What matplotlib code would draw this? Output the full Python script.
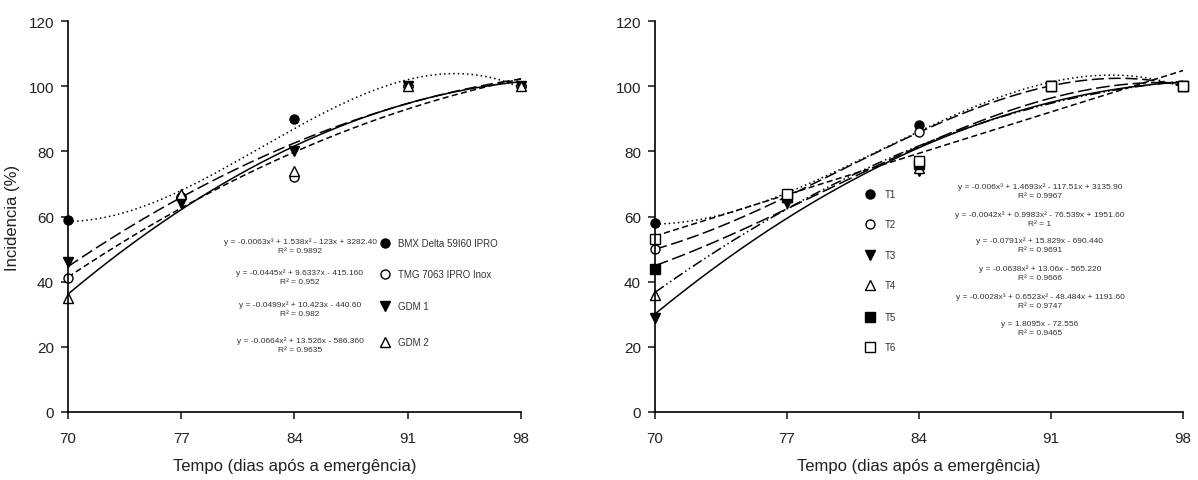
import numpy as np
import matplotlib
matplotlib.use("Agg")
import matplotlib.pyplot as plt

plt.rcParams['font.family'] = ['Liberation Sans', 'DejaVu Sans']

days = [70, 77, 84, 91, 98]

# Left panel (cultivars)
left_names = ["BMX Delta 59I60 IPRO", "TMG 7063 IPRO Inox", "GDM 1", "GDM 2"]
bmx = [59, 66, 90, 100, 100]
tmg = [41, 66, 72, 100, 100]
gdm1 = [46, 64, 80, 100, 100]
gdm2 = [35, 67, 74, 100, 100]
left_values = [bmx, tmg, gdm1, gdm2]
left_degree = [3, 2, 2, 2]
left_eq = [
    "y = -0.0063x³ + 1.538x² - 123x + 3282.40\nR² = 0.9892",
    "y = -0.0445x² + 9.6337x - 415.160\nR² = 0.952",
    "y = -0.0499x² + 10.423x - 440.60\nR² = 0.982",
    "y = -0.0664x² + 13.526x - 586.360\nR² = 0.9635",
]

# Right panel (treatments)
right_names = ["T1", "T2", "T3", "T4", "T5", "T6"]
t1 = [58, 66, 88, 100, 100]
t2 = [50, 66, 86, 100, 100]
t3 = [29, 64, 74, 100, 100]
t4 = [36, 66, 75, 100, 100]
t5 = [44, 66, 76, 100, 100]
t6 = [53, 67, 77, 100, 100]
right_values = [t1, t2, t3, t4, t5, t6]
right_degree = [3, 3, 2, 2, 3, 1]
right_eq = [
    "y = -0.006x³ + 1.4693x² - 117.51x + 3135.90\nR² = 0.9967",
    "y = -0.0042x³ + 0.9983x² - 76.539x + 1951.60\nR² = 1",
    "y = -0.0791x² + 15.829x - 690.440\nR² = 0.9691",
    "y = -0.0638x² + 13.06x - 565.220\nR² = 0.9666",
    "y = -0.0028x³ + 0.6523x² - 48.484x + 1191.60\nR² = 0.9747",
    "y = 1.8095x - 72.556\nR² = 0.9465",
]

left_styles = [
    dict(marker='o', mfc='black', ls=(0, (1, 2))),
    dict(marker='o', mfc='white', ls=(0, (4, 2.2))),
    dict(marker='v', mfc='black', ls=(0, (8, 3))),
    dict(marker='^', mfc='white', ls='-'),
]
right_styles = [
    dict(marker='o', mfc='black', ls=(0, (1, 2))),
    dict(marker='o', mfc='white', ls=(0, (8, 3))),
    dict(marker='v', mfc='black', ls='-'),
    dict(marker='^', mfc='white', ls=(0, (7, 2, 1, 2, 1, 2))),
    dict(marker='s', mfc='black', ls=(0, (9, 3))),
    dict(marker='s', mfc='white', ls=(0, (4, 2.2))),
]

fig = plt.figure(figsize=(11.98, 4.81), dpi=100)
axL = fig.add_axes([68/1198, 1-413/481, (521-68)/1198, (413-22)/481])
axR = fig.add_axes([655/1198, 1-413/481, (1183-655)/1198, (413-22)/481])

xs = np.linspace(70, 98, 300)

def draw(ax, values, degrees, styles):
    for vals, deg, st in zip(values, degrees, styles):
        coef = np.polyfit(days, vals, deg)
        ax.plot(xs, np.polyval(coef, xs), color='black', lw=1.1, ls=st['ls'])
        ax.plot(days, vals, ls='none', marker=st['marker'], mfc=st['mfc'],
                mec='black', mew=1.0, ms=6.5)

draw(axL, left_values, left_degree, left_styles)
draw(axR, right_values, right_degree, right_styles)

for ax in (axL, axR):
    ax.set_xlim(70, 98)
    ax.set_ylim(0, 120)
    ax.set_xticks(days)
    ax.set_yticks(range(0, 121, 20))
    ax.spines['top'].set_visible(False)
    ax.spines['right'].set_visible(False)
    ax.spines['left'].set_linewidth(1.2)
    ax.spines['bottom'].set_linewidth(1.2)
    ax.tick_params(direction='out', length=5, width=1.2, labelsize=11, colors='#222222')
    ax.tick_params(axis='x', pad=9)
    ax.tick_params(axis='y', pad=5)
    ax.set_xlabel("Tempo (dias após a emergência)", fontsize=12, labelpad=9, color='#222222')
    for s in ax.spines.values():
        s.set_clip_on(False)
    for l in ax.get_lines():
        l.set_clip_on(False)

axL.set_ylabel("Incidencia (%)", fontsize=12, color='#222222')
axL.yaxis.set_label_coords((20 - 68) / 453, 0.5)

eqfont = dict(family=['Liberation Sans', 'DejaVu Sans'], fontsize=6.0, color='#333333')
lgfont = dict(family=['Liberation Sans', 'DejaVu Sans'], fontsize=7, color='#333333')

def fy(py):
    return 1 - py/481
def fx(px):
    return px/1198

left_rows = [244, 275, 307, 343]
for name, st, eq, py in zip(left_names, left_styles, left_eq, left_rows):
    fig.text(fx(300), fy(py - 6), eq, ha='center', va='top', linespacing=1.45, **eqfont)
    fig.lines.append(plt.Line2D([fx(385)], [fy(py)], marker=st['marker'], mfc=st['mfc'],
                                mec='black', mew=1.0, ms=6.5, transform=fig.transFigure))
    fig.text(fx(398), fy(py), name, ha='left', va='center', **lgfont)

right_marker_rows = [195, 225, 256, 286, 318, 348]
right_eq_rows = [189, 217, 243, 271, 299, 327]
for name, st, eq, py, pe in zip(right_names, right_styles, right_eq, right_marker_rows, right_eq_rows):
    fig.text(fx(1040), fy(pe - 6), eq, ha='center', va='top', linespacing=1.45, **eqfont)
    fig.lines.append(plt.Line2D([fx(870)], [fy(py)], marker=st['marker'], mfc=st['mfc'],
                                mec='black', mew=1.0, ms=6.5, transform=fig.transFigure))
    fig.text(fx(885), fy(py), name, ha='left', va='center', **lgfont)

fig.savefig("out.png", dpi=100, facecolor='white')
